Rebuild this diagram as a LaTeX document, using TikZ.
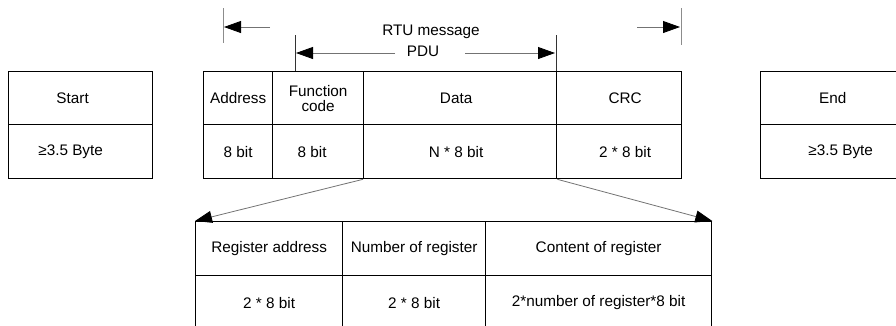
\documentclass[tikz,border=0pt]{standalone}
\usepackage{fontspec}
\setmainfont{Liberation Sans}
\usetikzlibrary{arrows.meta}
\begin{document}
\begin{tikzpicture}[x=1pt,y=-1pt,
  cell/.style={draw=black, line width=1.3pt, anchor=north west, inner sep=0pt,
    minimum height=54pt, align=center, font=\fontsize{15.3}{15}\selectfont},
  gline/.style={draw=black!55, line width=0.8pt},
  tick/.style={draw=black!45, line width=0.8pt},
  dtick/.style={draw=black!80, line width=1pt},
  harrow/.style={gline, -{Triangle[length=17pt,width=12pt,color=black,fill=black]}},
  lbl/.style={inner sep=0pt, font=\fontsize{15.3}{15}\selectfont}]
\useasboundingbox (0,0) rectangle (896,325);
\begin{scope}
\clip (0,0) rectangle (896,325);
% start
\node[cell, minimum width=144pt, minimum height=53pt] (start) at (8,71) {Start\hspace*{16pt}};
\node[cell, minimum width=144pt] (startb) at (8,124) {≥3.5 Byte\hspace*{20pt}};
% main frame
\node[cell, minimum width=69pt, minimum height=53pt] (addr) at (203,71) {Address};
\node[cell, minimum width=91pt, minimum height=53pt] (func) at (272,71) {Function\\code};
\node[cell, minimum width=193pt, minimum height=53pt] (data) at (363,71) {Data\hspace*{8pt}};
\node[cell, minimum width=125pt, minimum height=53pt] (crc) at (556,71) {\hspace*{12pt}CRC};
\node[cell, minimum width=69pt] (addrb) at (203,124) {8 bit};
\node[cell, minimum width=91pt] (funcb) at (272,124) {8 bit\hspace*{12pt}};
\node[cell, minimum width=193pt] (datab) at (363,124) {N * 8 bit\hspace*{8pt}};
\node[cell, minimum width=125pt] (crcb) at (556,124) {\hspace*{12pt}2 * 8 bit};
% end
\node[cell, minimum width=144pt, minimum height=53pt] (end) at (760,71) {End};
\node[cell, minimum width=144pt] (endb) at (760,124) {\hspace*{16pt}≥3.5 Byte};
% data detail
\node[cell, minimum width=147pt] (rega) at (195,221) {Register address};
\node[cell, minimum width=143pt] (regn) at (342,221) {Number of register};
\node[cell, minimum width=226pt] (regc) at (485,221) {Content of register};
\node[cell, minimum width=147pt] (regab) at (195,275) {2 * 8 bit};
\node[cell, minimum width=143pt] (regnb) at (342,275) {2 * 8 bit};
\node[cell, minimum width=226pt] (regcb) at (485,275) {2*number of register*8 bit};
\end{scope}
% top labels
\node[lbl] (rtu) at (431,32) {RTU message};
\node[lbl] (pdu) at (423,51) {PDU};
% ticks
\coordinate (lt1) at (223,8);  \coordinate (lt2) at (223,43);
\coordinate (rt1) at (681,8);  \coordinate (rt2) at (681,45);
\coordinate (pl1) at (295,35); \coordinate (pl2) at (295,71);
\coordinate (pr1) at (556,35); \coordinate (pr2) at (556,71);
\draw[tick] (lt1) -- (lt2);
\draw[tick] (rt1) -- (rt2);
\draw[dtick] (pl1) -- (pl2);
\draw[dtick] (pr1) -- (pr2);
% RTU arrows
\coordinate (ra1) at (270,27); \coordinate (ra2) at (224,27);
\coordinate (rb1) at (637,27); \coordinate (rb2) at (680,27);
\draw[harrow] (ra1) -- (ra2);
\draw[harrow] (rb1) -- (rb2);
% PDU arrows
\coordinate (pa1) at (395,53); \coordinate (pa2) at (296,53);
\coordinate (pb1) at (465,53); \coordinate (pb2) at (555,53);
\draw[harrow] (pa1) -- (pa2);
\draw[harrow] (pb1) -- (pb2);
% expansion arrows
\draw[harrow] (datab.south west) -- (rega.north west);
\draw[harrow] (datab.south east) -- (regc.north east);
\end{tikzpicture}
\end{document}
